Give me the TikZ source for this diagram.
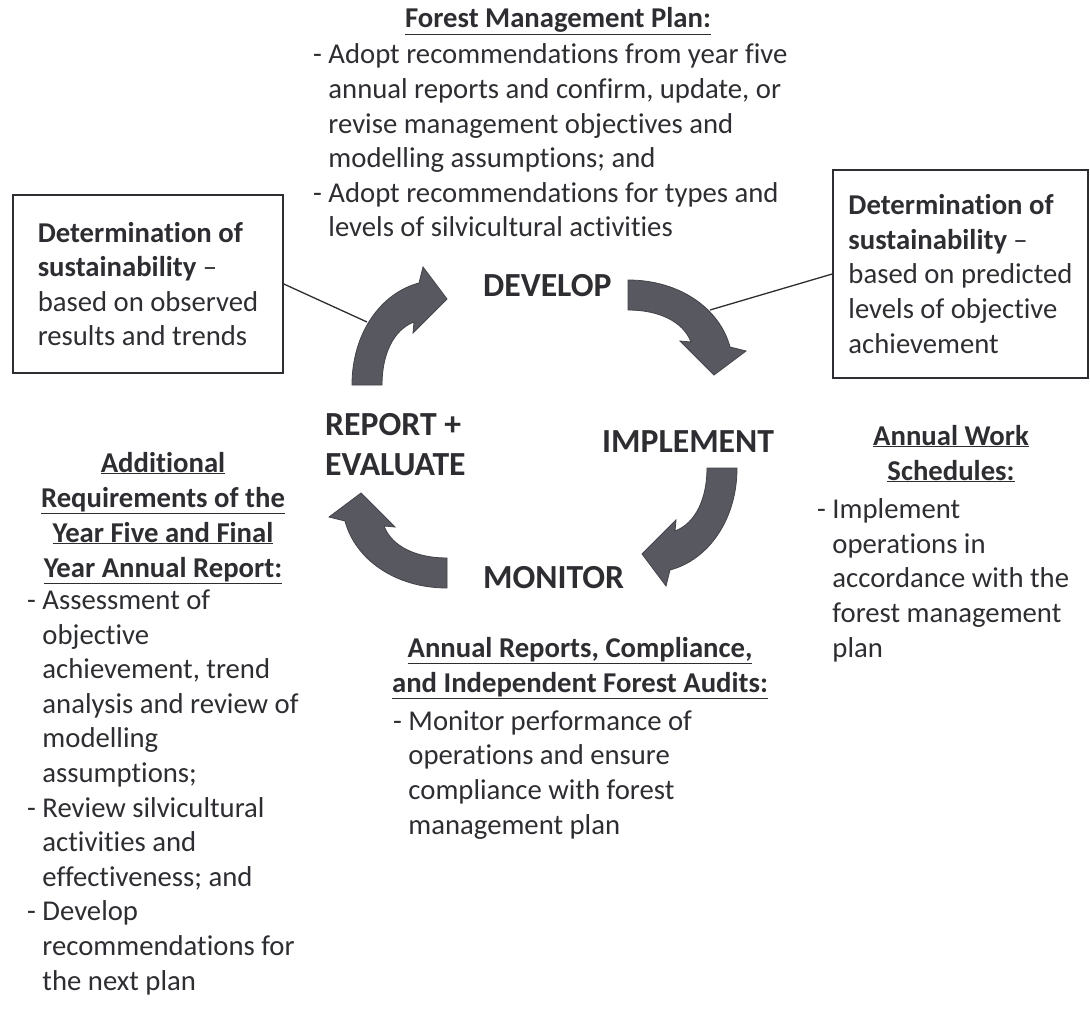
\documentclass[tikz,border=0pt]{standalone}
\usepackage{fontspec}
\setmainfont{Carlito}[Ligatures={TeX,NoCommon}]

\definecolor{inkgray}{RGB}{45,45,50}
\definecolor{arrowgray}{RGB}{88,88,96}

% indent for the second line of an item
\newcommand{\contindent}{\hphantom{- }}
% one curved block arrow of the cycle: #1 centre, #2 rotation
\newcommand{\cyclearrow}[2]{%
  \filldraw[arrowfill, shift={#1}, rotate=#2]
    (-93,0) .. controls (-93,-52) and (-64,-92) .. (-26,-102)
    -- (-22,-118) -- (2,-86) -- (-32,-52) -- (-31,-63)
    .. controls (-52,-55) and (-63,-30) .. (-63,0) -- cycle;}

\tikzset{
  body/.style={font=\fontsize{28.7}{34.6}\selectfont, text=inkgray, inner sep=0pt, align=left},
  heading/.style={body, font=\fontsize{28.7}{35}\selectfont\bfseries, align=center},
  stage/.style={font=\fontsize{33.7}{40}\selectfont\bfseries, text=inkgray, inner sep=0pt, align=left},
  sustbox/.style={body, draw=inkgray, line width=1.6pt},
  connector/.style={draw=inkgray, line width=1.3pt},
  arrowfill/.style={fill=arrowgray, draw=arrowgray!75!black, line width=0.8pt}
}

\begin{document}
\begin{tikzpicture}[x=1pt, y=-1pt]
\useasboundingbox (0,0) rectangle (1090,1011);

% develop (multi-line nodes sit on their last baseline)
\node[heading, anchor=base] (plantitle) at (558,28) {\underline{Forest Management Plan:}};
\node[body, anchor=base west] (plantext) at (313,237)
  {- Adopt recommendations from year five\\
   \contindent annual reports and confirm, update, or\\
   \contindent revise management objectives and\\
   \contindent modelling assumptions; and\\
   - Adopt recommendations for types and\\
   \contindent levels of silvicultural activities};

% sustainability boxes
\node[sustbox, minimum width=270, minimum height=178] (leftbox) at (148,284)
  {\textbf{Determination of}\\ \textbf{sustainability} --\\ based on observed\\ results and trends};
\node[sustbox, minimum width=255, minimum height=208] (rightbox) at (960.5,274)
  {\textbf{Determination of}\\ \textbf{sustainability} --\\ based on predicted\\ levels of objective\\ achievement};

\coordinate (leftarrowpt) at (367,322);
\coordinate (rightarrowpt) at (710,310);
\draw[connector] (leftbox.east) -- (leftarrowpt);
\draw[connector] (rightarrowpt) -- (rightbox.west);

% the cycle
\cyclearrow{(445,385)}{0}
\cyclearrow{(628,373)}{-90}
\cyclearrow{(644,468)}{180}
\cyclearrow{(447,495)}{90}

\node[stage, anchor=base west] (develop) at (483,297) {DEVELOP};
\node[stage, anchor=base west] (implement) at (602,452) {IMPLEMENT};
\node[stage, anchor=base west] (monitor) at (483,588) {MONITOR};
\node[stage, anchor=base west] (report) at (325,475) {REPORT +\\ EVALUATE};

% implement
\node[heading, anchor=base] (worktitle) at (951,480) {\underline{Annual Work}\\ \underline{Schedules:}};
\node[body, anchor=base west] (worktext) at (817,657)
  {- Implement\\
   \contindent operations in\\
   \contindent accordance with the\\
   \contindent forest management\\
   \contindent plan};

% monitor
\node[heading, anchor=base] (audittitle) at (580,692)
  {\underline{Annual Reports, Compliance,}\\ \underline{and Independent Forest Audits:}};
\node[body, anchor=base west] (audittext) at (393,834)
  {- Monitor performance of\\
   \contindent operations and ensure\\
   \contindent compliance with forest\\
   \contindent management plan};

% report + evaluate
\node[heading, anchor=base] (reporttitle) at (163,577)
  {\underline{Additional}\\ \underline{Requirements of the}\\ \underline{Year Five and Final}\\ \underline{Year Annual Report:}};
\node[body, anchor=base west] (reporttext) at (27,990)
  {- Assessment of\\
   \contindent objective\\
   \contindent achievement, trend\\
   \contindent analysis and review of\\
   \contindent modelling\\
   \contindent assumptions;\\
   - Review silvicultural\\
   \contindent activities and\\
   \contindent effectiveness; and\\
   - Develop\\
   \contindent recommendations for\\
   \contindent the next plan};
\end{tikzpicture}
\end{document}
